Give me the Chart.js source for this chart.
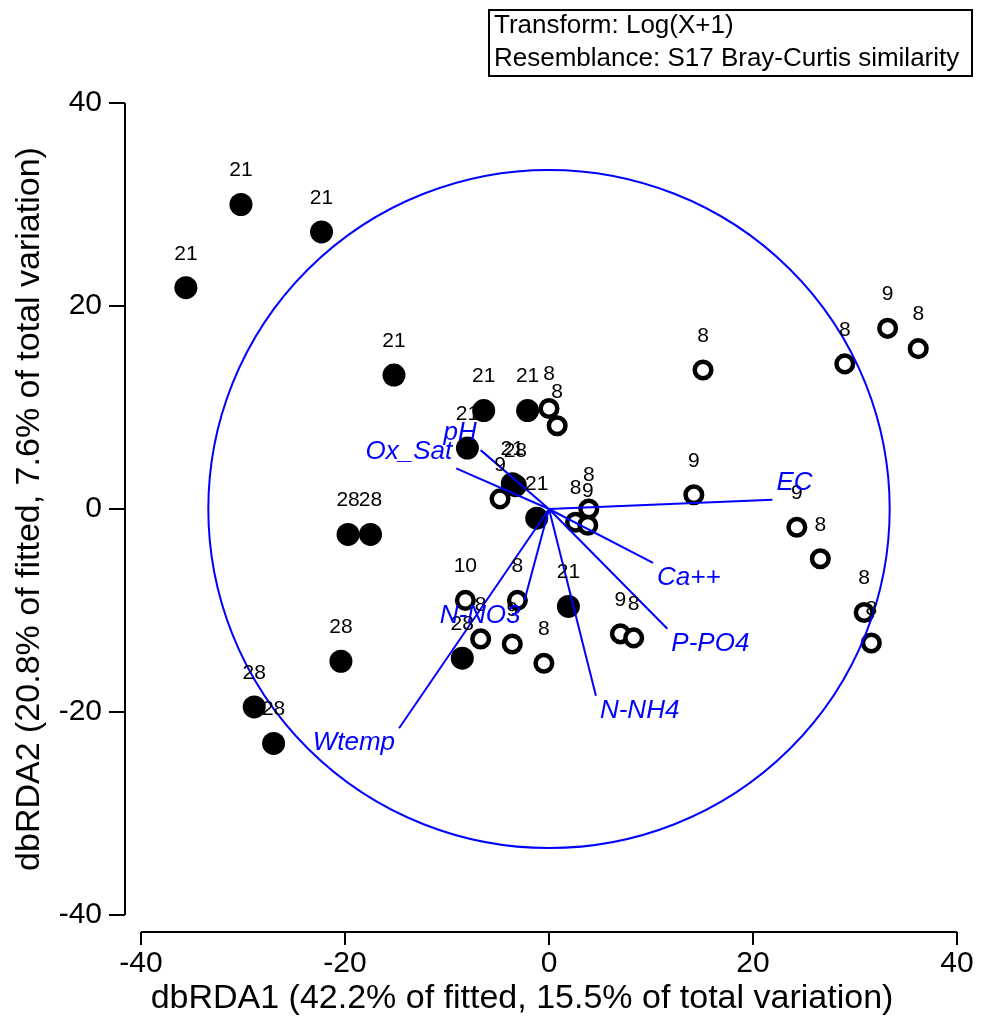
<!DOCTYPE html>
<html>
<head>
<meta charset="utf-8">
<script src="https://cdn.jsdelivr.net/npm/chart.js@4/dist/chart.umd.min.js"></script>
<style>
  html, body { margin: 0; padding: 0; background: #fff; }
</style>
</head>
<body>
<canvas id="rda" width="983" height="1023"></canvas>
<script>
// samples drawn as filled dots (21 and 28 groups)
const filledX = [-35.6, -30.2, -22.3, -15.2, -6.4, -2.1, -8.0, -3.3, -3.6, -1.2, 1.9, -19.7, -17.5, -20.4, -28.9, -27.0, -8.5];
const filledY = [21.8, 30.0, 27.3, 13.2, 9.7, 9.7, 6.0, 2.3, 2.5, -0.9, -9.6, -2.5, -2.5, -15.0, -19.5, -23.1, -14.7];
const filledLabels = ['21', '21', '21', '21', '21', '21', '21', '28', '21', '21', '21', '28', '28', '28', '28', '28', '28'];

// samples drawn as open rings (8, 9 and 10 groups)
const openX = [-8.2, -6.7, -3.1, -3.6, -0.5, 7.0, 8.3, -4.8, 0.0, 0.8, 3.9, 2.6, 3.8, 14.2, 15.1, 29.0, 33.2, 36.2, 24.3, 26.6, 30.9, 31.6];
const openY = [-9.0, -12.8, -9.0, -13.3, -15.2, -12.3, -12.7, 1.0, 9.9, 8.2, 0.0, -1.3, -1.6, 1.4, 13.7, 14.3, 17.8, 15.8, -1.8, -4.9, -10.2, -13.2];
const openLabels = ['10', '8', '8', '9', '8', '9', '8', '9', '8', '8', '8', '8', '9', '9', '8', '8', '9', '8', '9', '8', '8', '8'];

// predictor vectors
const vectorNames = ['EC', 'Ca++', 'P-PO4', 'N-NH4', 'N-NO3', 'Wtemp', 'Ox_Sat', 'pH'];
const vectorX = [21.9, 10.2, 11.6, 4.6, -2.4, -14.7, -9.1, -6.7];
const vectorY = [0.9, -5.3, -11.8, -18.4, -9.0, -21.6, 4.0, 5.8];
const circleRadius = 33.4;

const axisTicks = [-40, -20, 0, 20, 40];
const xTitle = 'dbRDA1 (42.2% of fitted, 15.5% of total variation)';
const yTitle = 'dbRDA2 (20.8% of fitted, 7.6% of total variation)';
const noteLines = ['Transform: Log(X+1)', 'Resemblance: S17 Bray-Curtis similarity'];

const FONT = "'Liberation Sans', Arial, sans-serif";
const BLUE = '#0000ff';

const pts = (xs, ys) => xs.map((x, i) => ({ x: x, y: ys[i] }));

const vectorSets = vectorNames.map((name, i) => ({
  label: name,
  data: [{ x: 0, y: 0 }, { x: vectorX[i], y: vectorY[i] }],
  showLine: true,
  borderColor: BLUE,
  borderWidth: 2,
  pointRadius: 0,
  fill: false
}));

const decor = {
  id: 'decor',
  afterDatasetsDraw(chart) {
    const ctx = chart.ctx;
    const xs = chart.scales.x, ys = chart.scales.y;
    const cx = xs.getPixelForValue(0), cy = ys.getPixelForValue(0);

    // correlation circle
    ctx.save();
    ctx.strokeStyle = BLUE;
    ctx.lineWidth = 2;
    ctx.beginPath();
    ctx.ellipse(cx, cy, xs.getPixelForValue(circleRadius) - cx, cy - ys.getPixelForValue(circleRadius), 0, 0, Math.PI * 2);
    ctx.stroke();

    // sample labels above the markers
    ctx.fillStyle = '#000';
    ctx.font = '21px ' + FONT;
    ctx.textAlign = 'center';
    ctx.textBaseline = 'middle';
    filledX.forEach((x, i) => {
      ctx.fillText(filledLabels[i], xs.getPixelForValue(x), ys.getPixelForValue(filledY[i]) - 34);
    });
    openX.forEach((x, i) => {
      ctx.fillText(openLabels[i], xs.getPixelForValue(x), ys.getPixelForValue(openY[i]) - 34);
    });

    // vector names
    ctx.fillStyle = BLUE;
    ctx.font = 'italic 26px ' + FONT;
    vectorNames.forEach((name, i) => {
      const ex = xs.getPixelForValue(vectorX[i]);
      const ey = ys.getPixelForValue(vectorY[i]);
      ctx.textAlign = vectorX[i] > 0 ? 'left' : 'right';
      ctx.fillText(name, ex + (vectorX[i] > 0 ? 4 : -4), ey + (vectorY[i] > 0 ? -17 : 15));
    });
    ctx.restore();
  },
  afterDraw(chart) {
    const ctx = chart.ctx;
    const xs = chart.scales.x, ys = chart.scales.y;
    const area = chart.chartArea;
    const axX = area.left - 16;
    const axY = area.bottom + 17;

    ctx.save();
    ctx.strokeStyle = '#000';
    ctx.lineWidth = 2;
    ctx.beginPath();
    // detached y axis with outward ticks
    ctx.moveTo(axX, ys.getPixelForValue(40));
    ctx.lineTo(axX, ys.getPixelForValue(-40));
    axisTicks.forEach(t => {
      const p = ys.getPixelForValue(t);
      ctx.moveTo(axX - 16, p);
      ctx.lineTo(axX, p);
    });
    // detached x axis
    ctx.moveTo(xs.getPixelForValue(-40), axY);
    ctx.lineTo(xs.getPixelForValue(40), axY);
    axisTicks.forEach(t => {
      const p = xs.getPixelForValue(t);
      ctx.moveTo(p, axY);
      ctx.lineTo(p, axY + 13);
    });
    ctx.stroke();

    // axis titles
    ctx.fillStyle = '#000';
    ctx.font = '34px ' + FONT;
    ctx.textAlign = 'center';
    ctx.textBaseline = 'middle';
    ctx.fillText(xTitle, 522, 999);
    ctx.translate(30, 509);
    ctx.rotate(-Math.PI / 2);
    ctx.fillText(yTitle, 0, 0);
    ctx.restore();

    // note box, top right
    ctx.save();
    ctx.strokeStyle = '#000';
    ctx.lineWidth = 2;
    ctx.strokeRect(489, 10, 483, 66);
    ctx.fillStyle = '#000';
    ctx.font = '26px ' + FONT;
    ctx.textBaseline = 'middle';
    ctx.textAlign = 'left';
    ctx.fillText(noteLines[0], 494, 26);
    ctx.fillText(noteLines[1], 494, 59);
    ctx.restore();
  }
};

new Chart(document.getElementById('rda'), {
  type: 'scatter',
  data: {
    datasets: [
      ...vectorSets,
      {
        label: 'open',
        data: pts(openX, openY),
        pointRadius: 8.3,
        pointBorderWidth: 4.5,
        pointBorderColor: '#000',
        pointBackgroundColor: '#fff'
      },
      {
        label: 'filled',
        data: pts(filledX, filledY),
        pointRadius: 11.5,
        pointBorderWidth: 0,
        pointBackgroundColor: '#000'
      }
    ]
  },
  options: {
    responsive: false,
    devicePixelRatio: 1,
    animation: false,
    layout: { padding: { left: 0, top: 103, right: 26, bottom: 0 } },
    plugins: { legend: { display: false }, tooltip: { enabled: false } },
    scales: {
      x: {
        type: 'linear',
        min: -40, max: 40,
        afterBuildTicks: s => { s.ticks = axisTicks.map(v => ({ value: v })); },
        afterFit: s => { s.height = 108; s.paddingLeft = 0; s.paddingRight = 0; },
        grid: { display: false, drawTicks: false },
        border: { display: false },
        ticks: { color: '#000', font: { family: FONT, size: 30 }, padding: 31, maxRotation: 0 }
      },
      y: {
        type: 'linear',
        min: -40, max: 40,
        afterBuildTicks: s => { s.ticks = axisTicks.map(v => ({ value: v })); },
        afterFit: s => { s.width = 141; },
        grid: { display: false, drawTicks: false },
        border: { display: false },
        ticks: { color: '#000', font: { family: FONT, size: 30 }, padding: 39 }
      }
    }
  },
  plugins: [decor]
});
</script>
</body>
</html>
